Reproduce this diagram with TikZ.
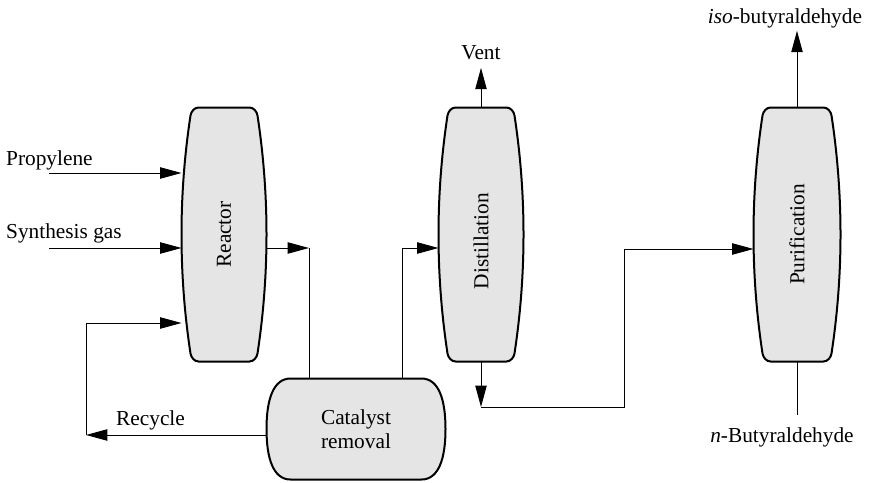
\documentclass[tikz,border=0pt]{standalone}
\usepackage{fontspec}
\setmainfont{Liberation Serif}
\usetikzlibrary{arrows.meta,calc,backgrounds}

\tikzset{every picture/.style={line width=0.75pt}}
\tikzset{
  vessel/.style={minimum width=63pt, minimum height=189.75pt, inner sep=0pt},
  tank/.style={minimum width=133.5pt, minimum height=75pt, inner sep=0pt, align=center},
  shell/.style={draw=black, line width=1.5pt, fill={rgb,255:red,229;green,229;blue,229}},
  pipe/.style={draw=black, line width=0.75pt},
  flow/.style={pipe, -{Triangle[length=16pt,width=8.5pt]}},
  lbl/.style={inner sep=2pt},
}

% barrel shaped column round a vessel node
\newcommand{\barrel}[1]{%
  \path[shell] ($(#1.north west)+(17,0)$) -- ($(#1.north east)+(-17,0)$)
    .. controls ($(#1.north east)+(-13,0)$) and ($(#1.north east)+(-9.6,4)$) .. ($(#1.north east)+(-9,8)$)
    .. controls ($(#1.east)+(3,-40)$) and ($(#1.east)+(3,40)$) .. ($(#1.south east)+(-9,-8)$)
    .. controls ($(#1.south east)+(-9.6,-4)$) and ($(#1.south east)+(-13,0)$) .. ($(#1.south east)+(-17,0)$)
    -- ($(#1.south west)+(17,0)$)
    .. controls ($(#1.south west)+(13,0)$) and ($(#1.south west)+(9.6,-4)$) .. ($(#1.south west)+(9,-8)$)
    .. controls ($(#1.west)+(-3,40)$) and ($(#1.west)+(-3,-40)$) .. ($(#1.north west)+(9,8)$)
    .. controls ($(#1.north west)+(9.6,4)$) and ($(#1.north west)+(13,0)$) .. ($(#1.north west)+(17,0)$)
    -- cycle;}

% drum with round ends round a tank node
\newcommand{\capsule}[1]{%
  \path[shell] ($(#1.north west)+(24,0)$) -- ($(#1.north east)+(-24,0)$)
    .. controls ($(#1.north east)+(-7,0)$) and ($(#1.east)+(0,-30)$) .. (#1.east)
    .. controls ($(#1.east)+(0,30)$) and ($(#1.south east)+(-7,0)$) .. ($(#1.south east)+(-24,0)$)
    -- ($(#1.south west)+(24,0)$)
    .. controls ($(#1.south west)+(7,0)$) and ($(#1.west)+(0,30)$) .. (#1.west)
    .. controls ($(#1.west)+(0,-30)$) and ($(#1.north west)+(7,0)$) .. ($(#1.north west)+(24,0)$)
    -- cycle;}

\begin{document}
\begin{tikzpicture}[x=0.75pt,y=0.75pt,yscale=-1,font=\fontsize{16}{18}\selectfont]
	\useasboundingbox (0,0) rectangle (873,482);

	% Vessels
	\node[vessel, label={[rotate=90]center:Reactor}] (reactor) at (224,234.5) {};
	\node[vessel, label={[rotate=90,xshift=-5pt]center:Distillation}] (distillation) at (481,234.5) {};
	\node[vessel, minimum width=64.5pt, label={[rotate=90]center:Purification}] (purification) at (797,234.5) {};
	\node[tank] (catalyst) at (356,429) {Catalyst\\removal};

	\begin{scope}[on background layer]
		\barrel{reactor}
		\barrel{distillation}
		\barrel{purification}
		\capsule{catalyst}
	\end{scope}

	% Feeds
	\node[lbl, anchor=base west] (propylene) at (3,165) {Propylene};
	\node[lbl, anchor=base west] (syngas) at (3,238) {Synthesis gas};
	\coordinate (propin) at (49,173);
	\coordinate (synin) at (49,248);
	\draw[flow] (propin) -- (propin -| reactor.west);
	\draw[flow] (synin) -- (synin -| reactor.west);

	% Recycle
	\node[lbl, anchor=base west] (recycle) at (113,425) {Recycle};
	\coordinate (recbend) at (86,435);
	\coordinate (recin) at (86,323);
	\draw[flow] (recbend -| catalyst.west) -- (recbend);
	\draw[flow] (recbend) -- (recin) -- (recin -| reactor.west);

	% Reactor -> catalyst removal -> distillation
	\coordinate (rxout) at (309,248);
	\coordinate (dsin) at (402,248);
	\draw[flow] (rxout -| reactor.east) -- (rxout);
	\draw[pipe] (rxout) -- (rxout |- catalyst.north);
	\draw[flow] (dsin |- catalyst.north) -- (dsin) -- (dsin -| distillation.west);

	% Distillation
	\node[lbl, anchor=base] (vent) at (481,59) {Vent};
	\draw[flow, shorten >=4pt] (distillation.north) -- (vent.south);
	\coordinate (dsout) at (481,407);
	\coordinate (pfin) at (624,249);
	\draw[flow] (distillation.south) -- (dsout);
	\draw[flow] (dsout) -| (pfin) -- (pfin -| purification.west);

	% Purification
	\node[lbl, anchor=base] (iso) at (785,23) {\textit{iso}-butyraldehyde};
	\node[lbl, anchor=base] (nbut) at (782,442) {\textit{n}-Butyraldehyde};
	\draw[flow] (purification.north) -- (purification.north |- iso.south);
	\draw[pipe, shorten >=7pt] (purification.south) -- (purification.south |- nbut.north);
\end{tikzpicture}
\end{document}
